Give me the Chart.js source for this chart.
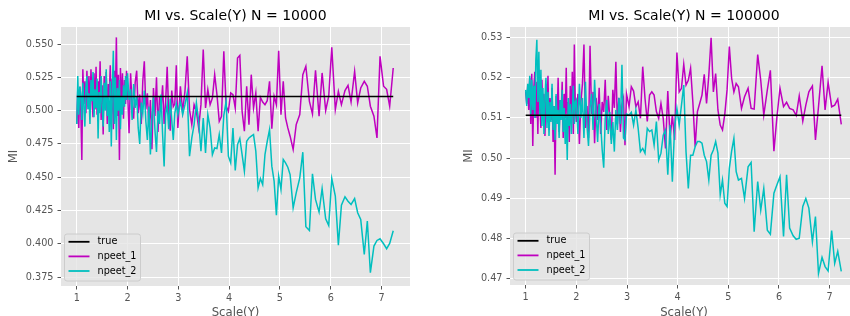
<!DOCTYPE html>
<html>
<head>
<meta charset="utf-8">
<title>MI vs. Scale(Y)</title>
<script src="https://cdn.jsdelivr.net/npm/chart.js@4/dist/chart.umd.min.js"></script>
<style>
  html, body { margin: 0; padding: 0; background: #fff; overflow: hidden; }
  .wrap { position: relative; width: 850px; height: 316px; overflow: hidden; }
  #chartLeft { position: absolute; left: 0; top: 0; }
  #chartRight { position: absolute; left: 425px; top: 0; }
</style>
</head>
<body>
<div class="wrap">
  <canvas id="chartLeft" width="425" height="322"></canvas>
  <canvas id="chartRight" width="435" height="322"></canvas>
</div>
<script>
// scale of Y, shared by every series
const scaleY = [
  1.00, 1.02, 1.04, 1.06, 1.08, 1.10, 1.12, 1.14, 1.16, 1.18,
  1.20, 1.22, 1.24, 1.26, 1.28, 1.30, 1.32, 1.34, 1.36, 1.38,
  1.40, 1.42, 1.44, 1.46, 1.48, 1.50, 1.52, 1.54, 1.56, 1.58,
  1.60, 1.62, 1.64, 1.66, 1.68, 1.70, 1.72, 1.74, 1.76, 1.78,
  1.80, 1.82, 1.84, 1.86, 1.88, 1.90, 1.92, 1.94, 1.96, 1.98,
  2.00, 2.03, 2.06, 2.09, 2.12, 2.15, 2.18, 2.21, 2.24, 2.27,
  2.30, 2.33, 2.36, 2.39, 2.42, 2.45, 2.48, 2.51, 2.54, 2.57,
  2.60, 2.63, 2.66, 2.69, 2.72, 2.75, 2.78, 2.81, 2.84, 2.87,
  2.90, 2.93, 2.96, 2.99,
  3.04, 3.085, 3.13, 3.175, 3.22, 3.265, 3.31, 3.355, 3.40, 3.445,
  3.49, 3.535, 3.58, 3.625, 3.67, 3.715, 3.76, 3.805, 3.85, 3.895,
  3.94, 3.985, 4.03, 4.075, 4.12, 4.165, 4.21, 4.255, 4.30, 4.345,
  4.39, 4.435, 4.48, 4.525, 4.57, 4.615, 4.66, 4.705, 4.75, 4.795,
  4.84, 4.885, 4.93, 4.975, 5.02, 5.065, 5.11, 5.155, 5.20,
  5.26, 5.32, 5.39, 5.45, 5.51, 5.58, 5.64, 5.70, 5.77, 5.83,
  5.90, 5.96, 6.02, 6.09, 6.15, 6.21, 6.28, 6.34, 6.40, 6.47,
  6.53, 6.59, 6.66, 6.72, 6.78, 6.85, 6.91, 6.97, 7.04, 7.10,
  7.16, 7.23
];

const trueMI = 0.5107;

// N = 10000
const leftNpeet1 = [
  0.490, 0.516, 0.487, 0.518, 0.500, 0.463, 0.531, 0.505, 0.522, 0.498,
  0.530, 0.503, 0.526, 0.499, 0.531, 0.508, 0.495, 0.528, 0.501, 0.533,
  0.497, 0.522, 0.506, 0.537, 0.493, 0.519, 0.482, 0.526, 0.504, 0.529,
  0.490, 0.520, 0.511, 0.534, 0.497, 0.524, 0.486, 0.530, 0.508, 0.555,
  0.496, 0.527, 0.463, 0.532, 0.502, 0.528, 0.494, 0.523, 0.505, 0.530,
  0.516, 0.483, 0.528, 0.505, 0.494, 0.521, 0.530, 0.498, 0.512, 0.490,
  0.522, 0.537, 0.501, 0.513, 0.488, 0.508, 0.471, 0.517, 0.496, 0.525,
  0.484, 0.511, 0.502, 0.519, 0.490, 0.507, 0.533, 0.497, 0.485, 0.515,
  0.503, 0.505, 0.534, 0.487,
  0.5183, 0.4995, 0.5145, 0.5408, 0.5008, 0.4895, 0.5045, 0.4995, 0.487, 0.5045,
  0.5458, 0.502, 0.5158, 0.5045, 0.5095, 0.527, 0.512, 0.492, 0.4958, 0.5445,
  0.5033, 0.4995, 0.5133, 0.512, 0.502, 0.5395, 0.5415, 0.4995, 0.4845, 0.5183,
  0.4895, 0.527, 0.502, 0.5133, 0.4845, 0.51, 0.5065, 0.5045, 0.5075, 0.522,
  0.4865, 0.5108, 0.5045, 0.545, 0.497, 0.522, 0.4945, 0.487, 0.4808,
  0.4708, 0.4895, 0.497, 0.527, 0.5333, 0.507, 0.4975, 0.5303, 0.4958, 0.5283,
  0.500, 0.5108, 0.5475, 0.5008, 0.5145, 0.5045, 0.515, 0.519, 0.5065, 0.5295,
  0.5058, 0.517, 0.522, 0.5183, 0.5033, 0.4958, 0.4795, 0.5408, 0.5183, 0.516,
  0.5033, 0.532
];
const leftNpeet2 = [
  0.490, 0.526, 0.497, 0.518, 0.512, 0.493, 0.521, 0.503, 0.488, 0.517,
  0.526, 0.501, 0.513, 0.490, 0.523, 0.507, 0.529, 0.495, 0.516, 0.502,
  0.524, 0.479, 0.514, 0.498, 0.526, 0.504, 0.488, 0.521, 0.500, 0.531,
  0.496, 0.510, 0.484, 0.522, 0.473, 0.516, 0.545, 0.490, 0.525, 0.478,
  0.517, 0.500, 0.523, 0.486, 0.511, 0.497, 0.519, 0.503, 0.526, 0.508,
  0.528, 0.508, 0.516, 0.493, 0.520, 0.502, 0.511, 0.487, 0.475, 0.506,
  0.498, 0.515, 0.492, 0.478, 0.503, 0.467, 0.496, 0.510, 0.485, 0.469,
  0.500, 0.490, 0.512, 0.482, 0.458, 0.497, 0.505, 0.486, 0.509, 0.493,
  0.478, 0.498, 0.505, 0.497,
  0.507, 0.497, 0.5045, 0.5133, 0.4658, 0.4795, 0.4895, 0.5058, 0.492, 0.4695,
  0.4945, 0.4683, 0.497, 0.487, 0.467, 0.472, 0.4715, 0.482, 0.4683, 0.4965,
  0.507, 0.4658, 0.4608, 0.487, 0.455, 0.4745, 0.479, 0.467, 0.4545, 0.477,
  0.4795, 0.4808, 0.482, 0.4695, 0.442, 0.449, 0.4445, 0.467, 0.477, 0.4858,
  0.4583, 0.447, 0.4215, 0.4508, 0.4408, 0.4633, 0.4608, 0.4575, 0.452,
  0.427, 0.4383, 0.4495, 0.4688, 0.4128, 0.41, 0.4525, 0.4333, 0.4238, 0.4415,
  0.4188, 0.4138, 0.449, 0.4358, 0.399, 0.429, 0.4353, 0.432, 0.4295, 0.434,
  0.4233, 0.4183, 0.392, 0.417, 0.3783, 0.3983, 0.4025, 0.4038, 0.400, 0.3963,
  0.4003, 0.4098
];

// N = 100000
const rightNpeet1 = [
  0.5165, 0.5135, 0.5180, 0.5120, 0.5200, 0.5085, 0.5210, 0.5030, 0.5175, 0.5215,
  0.5100, 0.5190, 0.5060, 0.5220, 0.5130, 0.5075, 0.5195, 0.5110, 0.5160, 0.5055,
  0.5185, 0.5125, 0.5205, 0.5070, 0.5150, 0.5095, 0.5175, 0.5040, 0.5130, 0.4958,
  0.5155, 0.5090, 0.5200, 0.5065, 0.5145, 0.5110, 0.5190, 0.5050, 0.5160, 0.5100,
  0.5225, 0.5070, 0.5140, 0.5040, 0.5180, 0.5095, 0.5215, 0.5060, 0.5283, 0.5120,
  0.5090, 0.5160, 0.5035, 0.5140, 0.5185, 0.5283, 0.5075, 0.5130, 0.5050, 0.5280,
  0.5110, 0.5165, 0.5037, 0.5150, 0.5095, 0.5175, 0.5060, 0.5140, 0.5115, 0.5195,
  0.5070, 0.5155, 0.5100, 0.5045, 0.5170, 0.5125, 0.5240, 0.5085, 0.5150, 0.5065,
  0.5135, 0.5150, 0.5032, 0.5160,
  0.5128, 0.5178, 0.5167, 0.5128, 0.5140, 0.5099, 0.5228, 0.5149, 0.5091, 0.5157,
  0.5165, 0.5157, 0.5116, 0.5099, 0.5136, 0.5099, 0.5024, 0.5167, 0.5049, 0.5107,
  0.5045, 0.5263, 0.5165, 0.5174, 0.5234, 0.5182, 0.5194, 0.5224, 0.5139, 0.5028,
  0.5116, 0.5136, 0.5157, 0.5209, 0.5136, 0.5207, 0.5300, 0.5165, 0.5211, 0.5120,
  0.5082, 0.5070, 0.5109, 0.5170, 0.5278, 0.5199, 0.5165, 0.5186, 0.5178,
  0.5124, 0.5153, 0.5174, 0.5124, 0.5122, 0.5258, 0.5194, 0.5107, 0.5170, 0.5219,
  0.5017, 0.5103, 0.5174, 0.5128, 0.5139, 0.5124, 0.5120, 0.5106, 0.5155, 0.5092,
  0.5132, 0.5165, 0.5180, 0.5045, 0.5128, 0.5230, 0.5120, 0.5189, 0.5128, 0.5132,
  0.5147, 0.5084
];
const rightNpeet2 = [
  0.5170, 0.5130, 0.5185, 0.5150, 0.5205, 0.5110, 0.5195, 0.5120, 0.5180, 0.5100,
  0.5245, 0.5295, 0.5140, 0.5265, 0.5105, 0.5220, 0.5080, 0.5175, 0.5060, 0.5150,
  0.5200, 0.5075, 0.5165, 0.5055, 0.5140, 0.5090, 0.5185, 0.5070, 0.5130, 0.5045,
  0.5160, 0.5085, 0.5120, 0.5050, 0.5145, 0.5095, 0.5170, 0.5065, 0.5125, 0.5035,
  0.5110, 0.4995, 0.5150, 0.5080, 0.5135, 0.5060, 0.5115, 0.5180, 0.5085, 0.5140,
  0.5145, 0.5060, 0.5185, 0.5100, 0.5150, 0.5050, 0.5190, 0.5080, 0.5030, 0.5125,
  0.5160, 0.5070, 0.5195, 0.5110, 0.5040, 0.5135, 0.5085, 0.5020, 0.4976, 0.5100,
  0.5145, 0.5060, 0.5115, 0.5035, 0.5090, 0.5016, 0.5120, 0.5070, 0.5150, 0.5085,
  0.5233, 0.5050, 0.5045, 0.5110,
  0.5107, 0.5114, 0.5082, 0.5120, 0.5074, 0.5016, 0.5024, 0.5012, 0.5074, 0.5066,
  0.5070, 0.5032, 0.5091, 0.4995, 0.5012, 0.5057, 0.5070, 0.4958, 0.5082, 0.4941,
  0.5078, 0.5124, 0.5082, 0.5132, 0.5182, 0.5016, 0.4924, 0.5007, 0.5007, 0.5028,
  0.5041, 0.5041, 0.5037, 0.5007, 0.4991, 0.4945, 0.5007, 0.5020, 0.5041, 0.5012,
  0.4908, 0.4945, 0.4887, 0.4879, 0.4974, 0.5017, 0.5049, 0.4966, 0.4945,
  0.4949, 0.4899, 0.4978, 0.4989, 0.4816, 0.4941, 0.4870, 0.4924, 0.4820, 0.4810,
  0.4912, 0.4933, 0.4953, 0.4804, 0.4958, 0.4825, 0.4806, 0.4797, 0.4800, 0.4879,
  0.4899, 0.4875, 0.4791, 0.4854, 0.4712, 0.4752, 0.4729, 0.4718, 0.4819, 0.4737,
  0.4767, 0.4717
];

const xTicks = [1, 2, 3, 4, 5, 6, 7];
const yTicksLeft = [0.375, 0.400, 0.425, 0.450, 0.475, 0.500, 0.525, 0.550];
const yTicksRight = [0.47, 0.48, 0.49, 0.50, 0.51, 0.52, 0.53];

Chart.defaults.font.family = "'DejaVu Sans', sans-serif";

// grey panel behind the plot (ggplot look)
const panelBg = {
  id: 'panelBg',
  beforeDraw(chart) {
    const { ctx, chartArea: a } = chart;
    ctx.save();
    ctx.fillStyle = '#e5e5e5';
    ctx.fillRect(a.left, a.top, a.right - a.left, a.bottom - a.top);
    ctx.restore();
  }
};

// legend box in the lower left corner of the plot
const insideLegend = {
  id: 'insideLegend',
  afterDatasetsDraw(chart) {
    const { ctx, chartArea: a } = chart;
    const w = 76, h = 47;
    const x = a.left + 3.5, y = a.bottom - 5 - h;
    ctx.save();
    ctx.beginPath();
    ctx.roundRect(x, y, w, h, 2.5);
    ctx.fillStyle = 'rgba(229,229,229,0.8)';
    ctx.fill();
    ctx.strokeStyle = '#cccccc';
    ctx.lineWidth = 1;
    ctx.stroke();
    chart.data.datasets.forEach((ds, i) => {
      const ly = y + 7.8 + i * 14.6;
      ctx.beginPath();
      ctx.moveTo(x + 4, ly);
      ctx.lineTo(x + 25, ly);
      ctx.strokeStyle = ds.borderColor;
      ctx.lineWidth = 1.8;
      ctx.stroke();
      ctx.fillStyle = '#000';
      ctx.font = "9.7px 'DejaVu Sans'";
      ctx.textBaseline = 'middle';
      ctx.fillText(ds.label, x + 33, ly);
    });
    ctx.restore();
  }
};

function points(ys) {
  return scaleY.map((x, i) => ({ x: x, y: ys[i] }));
}

function makeChart(id, title, n1, n2, yTicks, digits, yMin, yMax, axisW, axisH, padRight, miPad) {
  const gridOpts = {
    color: '#ffffff',
    lineWidth: 1,
    tickColor: '#555555',
    tickLength: 3.5,
    tickWidth: 1
  };
  return new Chart(document.getElementById(id), {
    type: 'line',
    data: {
      datasets: [
        {
          label: 'true',
          data: [{ x: scaleY[0], y: trueMI }, { x: scaleY[scaleY.length - 1], y: trueMI }],
          borderColor: '#000000',
          borderWidth: 1.5,
          pointRadius: 0,
          order: 0
        },
        {
          label: 'npeet_1',
          data: points(n1),
          borderColor: '#bf00bf',
          borderWidth: 1.5,
          pointRadius: 0,
          order: 2
        },
        {
          label: 'npeet_2',
          data: points(n2),
          borderColor: '#00bfbf',
          borderWidth: 1.5,
          pointRadius: 0,
          order: 1
        }
      ]
    },
    options: {
      responsive: false,
      animation: false,
      events: [],
      layout: { padding: { left: 0, right: padRight, top: 0, bottom: 0 } },
      plugins: {
        legend: { display: false },
        tooltip: { enabled: false },
        title: {
          display: true,
          text: title,
          fullSize: false,
          color: '#000',
          font: { size: 14, weight: 'normal' },
          padding: { top: 7.5, bottom: 2.7 }
        }
      },
      scales: {
        x: {
          type: 'linear',
          min: 0.69,
          max: 7.56,
          afterBuildTicks: s => { s.ticks = xTicks.map(v => ({ value: v })); },
          afterFit: s => { s.height = axisH; },
          ticks: {
            color: '#555555',
            font: { size: 9.7 },
            padding: 3,
            maxRotation: 0,
            callback: v => String(v)
          },
          grid: gridOpts,
          border: { display: false },
          title: {
            display: true,
            text: 'Scale(Y)',
            color: '#555555',
            font: { size: 11.7 },
            padding: { top: 0, bottom: 1.8 }
          }
        },
        y: {
          min: yMin,
          max: yMax,
          afterBuildTicks: s => { s.ticks = yTicks.map(v => ({ value: v })); },
          afterFit: s => { s.width = axisW; },
          ticks: {
            color: '#555555',
            font: { size: 9.7 },
            padding: 4,
            callback: v => v.toFixed(digits)
          },
          grid: gridOpts,
          border: { display: false },
          title: {
            display: true,
            text: 'MI',
            color: '#555555',
            font: { size: 11.7 },
            padding: { top: miPad, bottom: 0 }
          }
        }
      }
    },
    plugins: [panelBg, insideLegend]
  });
}

makeChart('chartLeft', 'MI vs. Scale(Y) N = 10000', leftNpeet1, leftNpeet2,
  yTicksLeft, 3, 0.3683, 0.5628, 61, 36, 15, 7);
makeChart('chartRight', 'MI vs. Scale(Y) N = 100000', rightNpeet1, rightNpeet2,
  yTicksRight, 2, 0.4683, 0.5327, 85, 37, 2, 37);
</script>
</body>
</html>
